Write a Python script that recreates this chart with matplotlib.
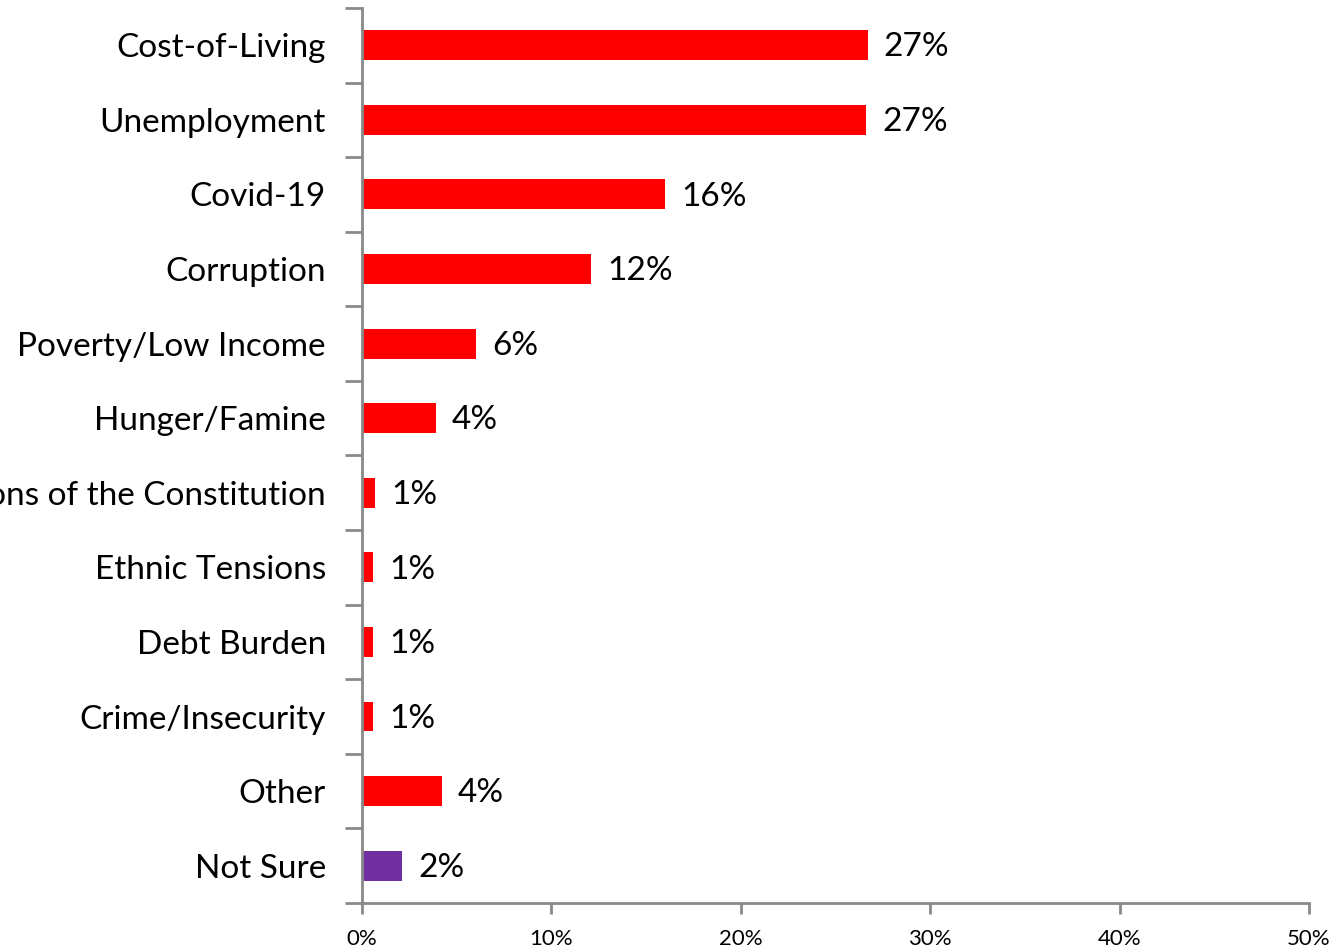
import matplotlib
matplotlib.use("Agg")
import matplotlib.pyplot as plt
from matplotlib.ticker import FuncFormatter

plt.rcParams['font.family'] = ['Lato', 'DejaVu Sans']

categories = [
    "Cost-of-Living", "Unemployment", "Covid-19", "Corruption",
    "Poverty/Low Income", "Hunger/Famine", "Violations of the Constitution",
    "Ethnic Tensions", "Debt Burden", "Crime/Insecurity", "Other", "Not Sure",
]
values = [26.7, 26.6, 16.0, 12.1, 6.0, 3.9, 0.7, 0.6, 0.6, 0.6, 4.2, 2.1]
bar_colors = ["#FF0000"] * 11 + ["#7030A0"]
x_ticks = [0, 10, 20, 30, 40, 50]

fig = plt.figure(figsize=(13.32, 9.47), dpi=100)
ax = fig.add_axes([0.2718, 0.0465, 0.7109, 0.9451])

n = len(categories)
ypos = list(range(n))
ax.barh(ypos, values, height=0.4, color=bar_colors)
ax.set_ylim(n - 0.5, -0.5)
ax.set_xlim(0, 50)

# value labels at the end of each bar
for y, v in zip(ypos, values):
    ax.text(v + 0.85, y + 0.03, f"{v:.0f}%", va="center", ha="left",
            fontsize=24, color="black")

# category labels, with ticks between categories
ax.set_yticks([i - 0.5 for i in range(n + 1)], minor=False)
ax.set_yticklabels([])
ax.set_yticks(ypos, minor=True)
ax.set_yticklabels(categories, minor=True, fontsize=24)
ax.tick_params(axis="y", which="minor", length=0, pad=26)
ax.tick_params(axis="y", which="major", length=12, width=2, color="#898989")

ax.set_xticks(x_ticks)
ax.xaxis.set_major_formatter(FuncFormatter(lambda x, _: f"{x:.0f}%"))
ax.tick_params(axis="x", length=8, width=2, color="#898989", labelsize=16, pad=11)

for side in ("top", "right"):
    ax.spines[side].set_visible(False)
for side in ("left", "bottom"):
    ax.spines[side].set_color("#898989")
    ax.spines[side].set_linewidth(2)

fig.savefig("out.png", dpi=100)
